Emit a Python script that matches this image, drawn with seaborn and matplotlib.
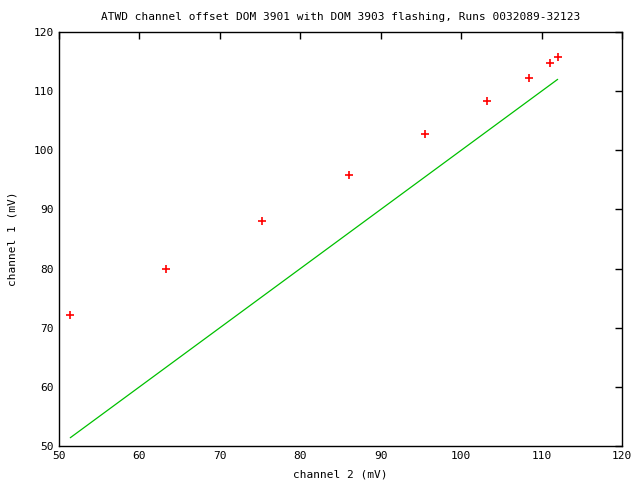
import matplotlib
matplotlib.use("Agg")
import matplotlib.pyplot as plt
import seaborn as sns
import pandas as pd

channel2 = [51.4, 63.3, 75.2, 86.1, 95.5, 103.2, 108.4, 111.1, 112.0]
channel1 = [72.1, 79.9, 88.0, 95.8, 102.7, 108.3, 112.2, 114.7, 115.8]
x_ticks = [50, 60, 70, 80, 90, 100, 110, 120]
y_ticks = [50, 60, 70, 80, 90, 100, 110, 120]

df = pd.DataFrame({"channel2": channel2, "channel1": channel1})
df["diag"] = df["channel2"]

sns.set_style("white")
plt.rcParams["font.family"] = ["DejaVu Sans Mono"]
plt.rcParams["text.color"] = "black"
plt.rcParams["axes.labelcolor"] = "black"

fig = plt.figure(figsize=(6.4, 4.8), dpi=100)
ax = fig.add_axes([0.0922, 0.0708, 0.8797, 0.8625])

# Diagonale y = x
sns.lineplot(data=df, x="channel2", y="diag", color="#00c000", linewidth=0.9, ax=ax)
# Punkte
sns.scatterplot(data=df, x="channel2", y="channel1", marker="+", color="red",
                s=30, linewidth=1.2, ax=ax, zorder=3)

ax.set_xlim(50, 120)
ax.set_ylim(50, 120)
ax.set_xticks(x_ticks)
ax.set_yticks(y_ticks)
ax.tick_params(direction="in", length=5, width=1, top=True, right=True,
               labelsize=8, colors="black")
for s in ax.spines.values():
    s.set_color("black")
    s.set_linewidth(1)

ax.set_title("ATWD channel offset DOM 3901 with DOM 3903 flashing, Runs 0032089-32123",
             fontsize=8, pad=9, color="black")
ax.set_xlabel("channel 2 (mV)", fontsize=8, labelpad=6)
ax.set_ylabel("channel 1 (mV)", fontsize=8, labelpad=12)

plt.savefig("out.png", dpi=100)
